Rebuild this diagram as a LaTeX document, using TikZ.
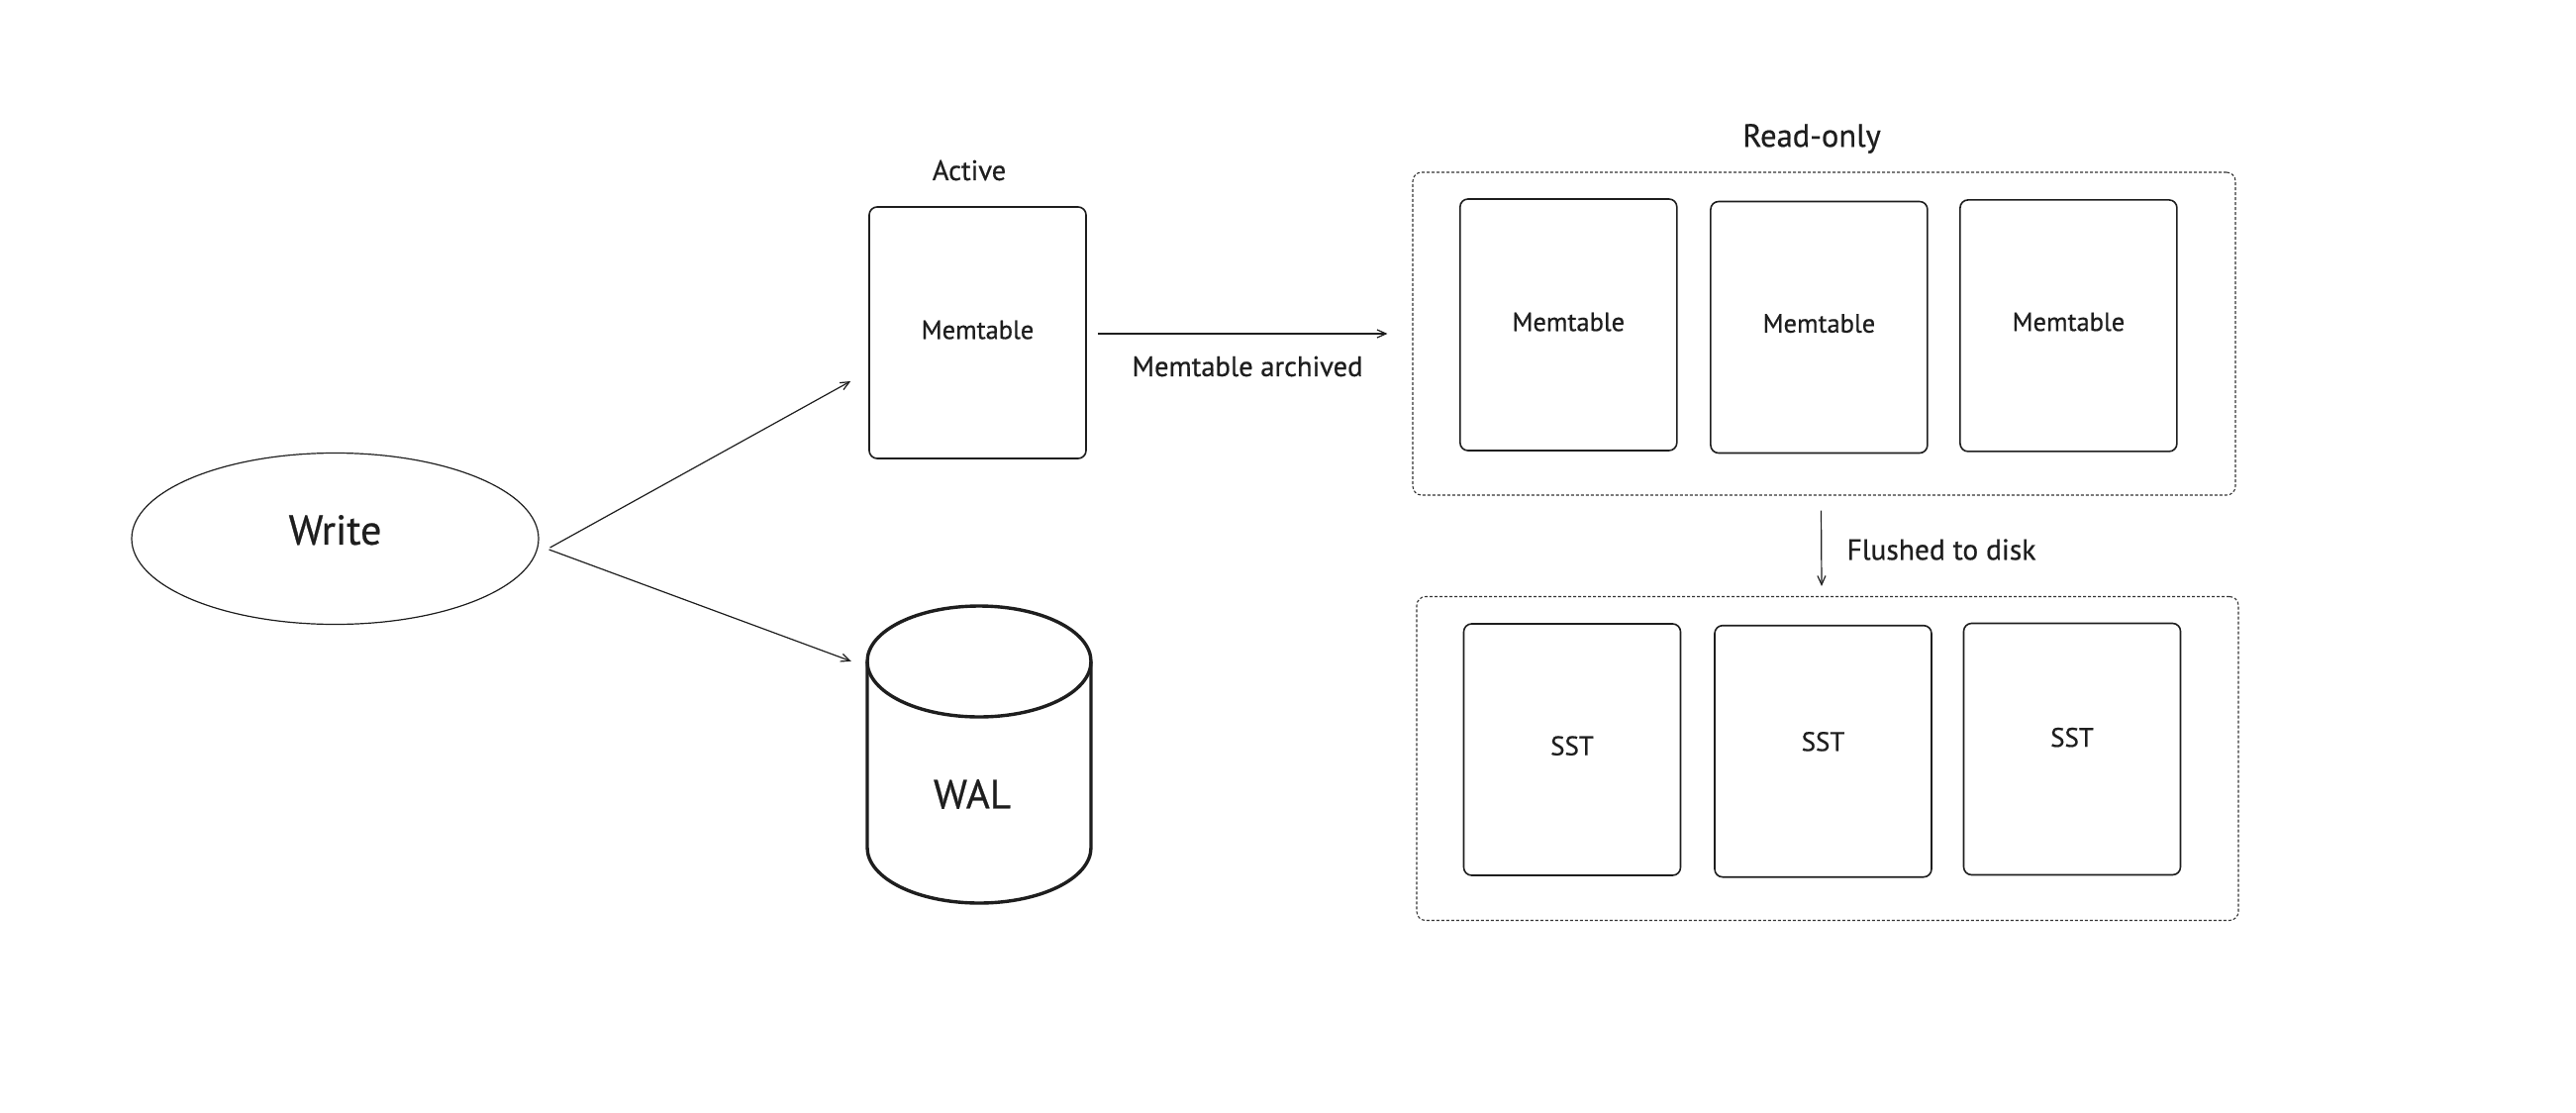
\documentclass[tikz,border=0pt]{standalone}
\usepackage{fontspec}
\setmainfont{PT Sans}
\newfontfamily\hand{PT Sans}[FakeBold=0.6]
\usetikzlibrary{arrows.meta,calc,shapes.geometric}
\definecolor{ink}{HTML}{1E1E1E}

\begin{document}
\begin{tikzpicture}[x=1pt,y=-1pt,
  every node/.style={text=ink},
  txt/.style={font=\hand\fontsize{#1}{#1}\selectfont},
  lift/.style={text depth=#1},
  table/.style={draw=ink, line width=1.6pt, rounded corners=8pt,
    minimum width=219pt, minimum height=254pt, inner sep=0pt, txt=26.5},
  sstbox/.style={table, txt=27},
  group/.style={draw=ink!90, line width=1.1pt, dash pattern=on 3pt off 2pt,
    rounded corners=9pt, inner sep=0pt},
  flow/.style={draw=ink, line width=1.2pt, -{Straight Barb[length=9pt,width=8pt]}},
  caption/.style={inner sep=0pt},
]
\useasboundingbox (0,0) rectangle (2602,1124);
\fill[white] (0,0) rectangle (2602,1124);

% client write
\node[ellipse, draw=ink, line width=1.2pt, minimum width=411pt, minimum height=173pt,
      txt=42, lift=18pt] (write) at (338.5,544) {Write};

% active memtable
\node[table, lift=6pt] (active) at (987.5,336) {Memtable};
\node[caption, txt=28.5] (activelbl) at (979,172) {Active};

% write-ahead log
\node[minimum width=226pt, minimum height=300pt, inner sep=0pt] (wal) at (989,762) {};
\draw[ink, line width=3.4pt] (989,668) ellipse[x radius=113pt, y radius=56pt];
\draw[ink, line width=3.4pt] (876,668) -- (876,856)
  arc[start angle=180, end angle=360, x radius=113pt, y radius=56pt] -- (1102,668);
\node[caption, txt=41] (walname) at (982,802) {WAL};

% read-only memtables
\node[group, minimum width=831pt, minimum height=326pt] (ro) at (1842.5,337) {};
\node[caption, txt=32.5] (rolbl) at (1830,140) {Read-only};
\node[table, lift=6pt] (m1) at (1584.3,328) {Memtable};
\node[table, lift=8pt] (m2) at (1837.4,330.5) {Memtable};
\node[table, lift=8pt] (m3) at (2089.4,328.9) {Memtable};

% sorted string tables on disk
\node[group, minimum width=830pt, minimum height=327pt] (disk) at (1846,766) {};
\node[sstbox, lift=8pt] (s1) at (1588,757) {SST};
\node[sstbox, lift=20pt] (s2) at (1841.5,758.7) {SST};
\node[sstbox, lift=24pt] (s3) at (2093,756.5) {SST};

% connectors
\draw[flow] ($(write.east)+(11,9)$) -- ($(active.west)+(-18,49)$);
\draw[flow] ($(write.east)+(10,11)$) -- ($(wal.north west)+(-16,56)$);
\draw[flow] ($(active.east)+(11,1)$) -- ($(ro.west)+(-25,0)$);
\node[caption, txt=28.5] (archlbl) at (1260,370) {Memtable archived};
\draw[flow] ($(ro.south)+(-3,15)$) -- ($(disk.north)+(-6,-10)$);
\node[caption, txt=29.5] (flushlbl) at (1961,555) {Flushed to disk};
\end{tikzpicture}
\end{document}
